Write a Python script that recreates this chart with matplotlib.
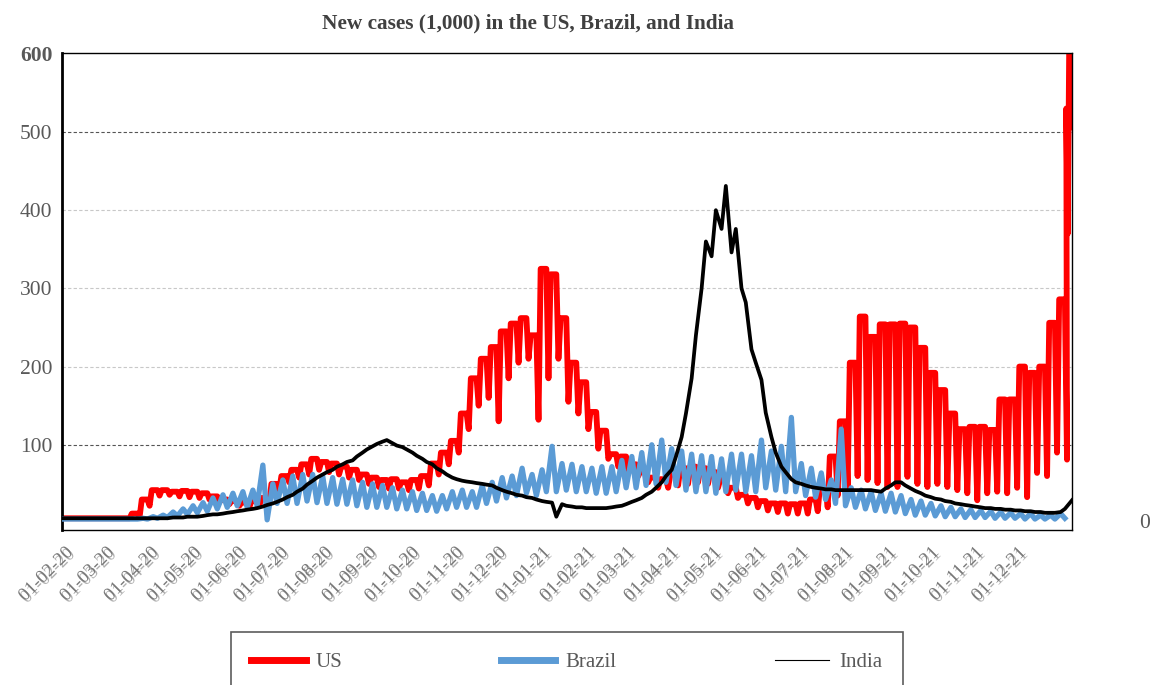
import numpy as np
import matplotlib
matplotlib.use("Agg")
import matplotlib.pyplot as plt
import matplotlib.dates as mdates
import matplotlib.patheffects as pe
from matplotlib.lines import Line2D

plt.rcParams['font.family'] = ['Liberation Serif', 'DejaVu Serif']

# weekly readings (thousands): working-day level and weekend level
start = np.datetime64('2020-01-22')

us_week = [6, 6, 6, 6, 6, 6, 6, 12, 30, 42,
           42, 40, 41, 40, 38, 34, 30, 28, 26, 28,
           32, 50, 60, 68, 75, 82, 78, 76, 72, 68,
           62, 58, 55, 56, 52, 55, 60, 76, 90, 105,
           140, 185, 210, 225, 245, 255, 262, 240, 325, 318,
           262, 205, 180, 142, 118, 88, 85, 75, 66, 58,
           56, 62, 70, 72, 70, 65, 55, 45, 36, 32,
           28, 25, 25, 24, 25, 30, 45, 85, 130, 205,
           264, 238, 254, 254, 255, 250, 224, 192, 170, 140,
           120, 123, 123, 119, 158, 158, 200, 192, 200, 256, 286]
us_wkend = [6, 6, 6, 6, 6, 6, 6, 8, 22, 35,
            36, 34, 33, 32, 30, 27, 24, 22, 20, 22,
            26, 42, 52, 58, 62, 68, 65, 62, 58, 55,
            50, 46, 44, 44, 42, 44, 48, 62, 75, 90,
            120, 150, 160, 130, 185, 205, 210, 132, 185, 210,
            155, 140, 120, 95, 82, 72, 68, 60, 52, 45,
            45, 48, 50, 52, 50, 45, 38, 32, 25, 20,
            16, 14, 12, 12, 12, 15, 20, 35, 46, 60,
            55, 51, 46, 46, 59, 50, 46, 50, 46, 42,
            38, 29, 38, 40, 38, 45, 33, 64, 60, 90, 81]
# last days of December 2021
us_tail_dates = ['2021-12-27', '2021-12-28', '2021-12-29', '2021-12-30', '2021-12-31']
us_tail = [530, 370, 600, 610, 506]

brazil_week = [5, 5, 5, 5, 5, 5, 5, 5, 6, 8,
               10, 14, 18, 22, 26, 32, 36, 38, 40, 42,
               74, 50, 55, 60, 62, 62, 60, 58, 56, 55,
               52, 50, 48, 45, 42, 40, 38, 35, 35, 40,
               42, 40, 48, 52, 58, 60, 70, 62, 68, 98,
               76, 75, 72, 70, 72, 72, 80, 85, 90, 100,
               106, 95, 92, 88, 86, 85, 82, 88, 88, 86,
               106, 92, 98, 135, 76, 70, 64, 55, 120, 45,
               42, 40, 38, 38, 35, 30, 28, 25, 22, 20,
               18, 17, 16, 15, 14, 13, 12, 12, 10, 10, 12]
brazil_wkend = [5, 5, 5, 5, 5, 5, 5, 5, 5, 6,
                7, 9, 11, 13, 15, 18, 20, 22, 20, 22,
                4, 25, 25, 25, 28, 26, 25, 24, 24, 22,
                20, 20, 20, 18, 18, 16, 16, 15, 18, 20,
                20, 20, 25, 28, 32, 35, 38, 35, 40, 40,
                42, 40, 40, 38, 38, 40, 45, 45, 48, 50,
                52, 48, 42, 40, 40, 38, 40, 42, 40, 40,
                45, 42, 40, 40, 35, 33, 30, 25, 22, 20,
                18, 16, 15, 14, 12, 10, 10, 9, 8, 8,
                7, 7, 7, 6, 6, 6, 5, 5, 5, 5, 6]

india_week = [6, 6, 6, 6, 6, 6, 6, 6, 6, 6,
              6, 7, 7, 8, 9, 11, 12, 14, 16, 18,
              21, 25, 30, 36, 44, 54, 62, 68, 75, 80,
              90, 98, 104, 102, 97, 90, 82, 75, 66, 58,
              54, 52, 50, 48, 42, 38, 35, 32, 28, 26,
              24, 21, 20, 19, 19, 20, 22, 27, 32, 40,
              52, 68, 110, 185, 300, 341, 376, 346, 300, 222,
              183, 110, 72, 56, 50, 46, 44, 43, 42, 42,
              42, 42, 40, 48, 52, 44, 38, 33, 30, 27,
              24, 22, 20, 19, 18, 17, 16, 15, 14, 13, 14]
india_wkend = [6, 6, 6, 6, 6, 6, 6, 6, 6, 6,
               6, 7, 8, 8, 10, 11, 13, 15, 17, 19,
               23, 27, 33, 40, 49, 58, 65, 72, 78, 85,
               94, 101, 106, 99, 94, 86, 78, 70, 62, 56,
               53, 51, 49, 45, 40, 36, 33, 30, 27, 8,
               22, 20, 19, 19, 19, 21, 24, 29, 36, 45,
               60, 85, 140, 240, 360, 400, 431, 376, 282, 205,
               141, 90, 65, 52, 48, 45, 43, 42, 42, 42,
               42, 41, 44, 52, 48, 41, 35, 31, 28, 25,
               23, 21, 19, 18, 17, 16, 15, 14, 13, 13, 18]
india_tail_dates = ['2021-12-31']
india_tail = [29]

tick_dates = ['2020-%02d-01' % m for m in range(2, 13)] + ['2021-%02d-01' % m for m in range(1, 13)]


def to_dt(arr):
    return arr.astype('datetime64[s]').astype(object)


def block_series(week_vals, wkend_vals, tail_dates=(), tail_vals=()):
    # working-day level held through the week, short dip at the weekend
    base = (start + np.arange(len(week_vals)) * 7).astype('datetime64[h]')
    x = np.column_stack([base, base + 96, base + 132]).ravel()
    y = np.column_stack([week_vals, week_vals, wkend_vals]).ravel().astype(float)
    if len(tail_dates):
        x = np.concatenate([x, np.array(tail_dates, dtype='datetime64[h]')])
        y = np.concatenate([y, tail_vals])
    return to_dt(x), y


def zigzag_series(week_vals, wkend_vals, tail_dates=(), tail_vals=()):
    base = start + np.arange(len(week_vals)) * 7
    x = np.column_stack([base + 1, base + 4]).ravel()
    y = np.column_stack([week_vals, wkend_vals]).ravel().astype(float)
    if len(tail_dates):
        x = np.concatenate([x, np.array(tail_dates, dtype='datetime64[D]')])
        y = np.concatenate([y, tail_vals])
    return to_dt(x), y


fig = plt.figure(figsize=(11.53, 6.85), dpi=100)
ax = fig.add_axes([62 / 1153, 1 - 530 / 685, 1010 / 1153, 477 / 685])

# gridlines
for v in [200, 300, 400]:
    ax.axhline(v, color='#c8c8c8', lw=0.8, ls=(0, (3, 2)), zorder=0)
for v in [100, 500]:
    ax.axhline(v, color='#555555', lw=0.8, ls=(0, (3, 2)), zorder=0)

xu, yu = block_series(us_week, us_wkend, us_tail_dates, us_tail)
xb, yb = zigzag_series(brazil_week, brazil_wkend)
xi, yi = zigzag_series(india_week, india_wkend, india_tail_dates, india_tail)

ax.plot(xu, yu, color='#ff0000', lw=4.2, solid_joinstyle='round', zorder=2)
ax.plot(xb, yb, color='#5b9bd5', lw=3.8, solid_joinstyle='round', zorder=3)
ax.plot(xi, yi, color='black', lw=2.7, solid_joinstyle='round', zorder=4)

ax.set_xlim(to_dt(np.datetime64('2020-01-22')), to_dt(np.datetime64('2021-12-31')))
ax.set_ylim(-9, 601)

ax.set_yticks([100, 200, 300, 400, 500, 600])
ax.tick_params(axis='y', length=0, pad=7, labelsize=15.5, labelcolor='#595959')
ax.get_yticklabels()[-1].set_fontweight('bold')

ax.set_xticks([to_dt(np.datetime64(d)) for d in tick_dates])
ax.xaxis.set_major_formatter(mdates.DateFormatter('%d-%m-%y'))
ax.tick_params(axis='x', length=0, pad=10, labelsize=13.5, labelcolor='#7a7a7a')
for lab in ax.get_xticklabels():
    lab.set_rotation(45)
    lab.set_ha('right')
    lab.set_path_effects([pe.SimplePatchShadow(offset=(1.5, -1.5), shadow_rgbFace='#a8a8a8', alpha=0.9),
                          pe.Normal()])

for side in ['top', 'right', 'bottom']:
    ax.spines[side].set_linewidth(1.0)
ax.spines['left'].set_linewidth(2.0)

fig.text(528 / 1153, 1 - 23 / 685, 'New cases (1,000) in the US, Brazil, and India',
         ha='center', va='center', fontsize=15.3, fontweight='bold', color='#404040')
fig.text(1145 / 1153, 1 - 523 / 685, '0', ha='center', va='center', fontsize=15.5, color='#595959')

handles = [Line2D([], [], color='#ff0000', lw=5),
           Line2D([], [], color='#5b9bd5', lw=5),
           Line2D([], [], color='black', lw=0.8)]
leg = fig.legend(handles, ['US', 'Brazil', 'India'], loc='upper center',
                 bbox_to_anchor=(567 / 1153, 1 - 632 / 685), ncol=3, frameon=True,
                 fancybox=False, fontsize=15, handlelength=2.6, handletextpad=0.5,
                 columnspacing=7.6, borderpad=1.0, borderaxespad=0)
leg.get_frame().set_edgecolor('#333333')
leg.get_frame().set_linewidth(1.2)
for t in leg.get_texts():
    t.set_color('#595959')

fig.savefig('out.png', dpi=100)
